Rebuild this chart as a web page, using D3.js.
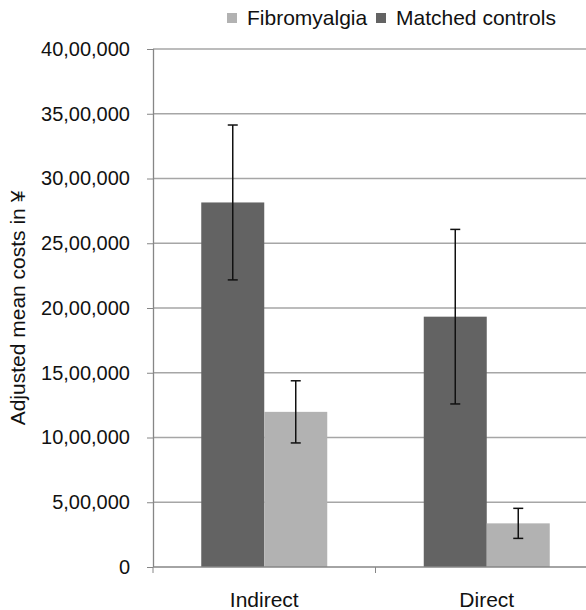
<!DOCTYPE html>
<html>
<head>
<meta charset="utf-8">
<script src="https://cdn.jsdelivr.net/npm/d3@7"></script>
<style>
  html, body { margin: 0; padding: 0; background: #fff; }
  svg { display: block; font-family: "Liberation Sans", Arial, sans-serif; }
</style>
</head>
<body>
<div id="chart"></div>
<script>
// DATA
const categories = ["Indirect", "Direct"];
const seriesNames = ["Matched controls", "Fibromyalgia"];
const matchedValues = [2815000, 1933000];
const matchedErrors = [598000, 674000];
const fibroValues = [1198000, 337000];
const fibroErrors = [240000, 116000];
const yTicks = [0, 500000, 1000000, 1500000, 2000000, 2500000, 3000000, 3500000, 4000000];
const legendNames = ["Fibromyalgia", "Matched controls"];

const colors = { "Matched controls": "#636363", "Fibromyalgia": "#b2b2b2" };

// SETUP
const W = 586, H = 610;
const margin = { top: 49, right: -12, bottom: 43, left: 153 };
const width = W - margin.left - margin.right,
      height = H - margin.top - margin.bottom;

const svg = d3.select("#chart").append("svg")
    .attr("width", W).attr("height", H);

const g = svg.append("g")
    .attr("transform", "translate(" + margin.left + "," + margin.top + ")");

const x0 = d3.scaleBand().domain(categories).range([0, width]).padding(0);
const x1 = d3.scaleBand().domain(seriesNames).range([0, x0.bandwidth()])
    .paddingInner(0).paddingOuter(0.766);
const y = d3.scaleLinear().domain([0, 4000000]).range([height, 0]);

// indian style grouping 40,00,000
function indian(n) {
    let s = String(Math.round(n));
    if (s.length <= 3) return s;
    let last3 = s.slice(-3), rest = s.slice(0, -3);
    rest = rest.replace(/\B(?=(\d{2})+(?!\d))/g, ",");
    return rest + "," + last3;
}

// GRID
g.append("g").selectAll("line")
    .data(yTicks.filter(d => d > 0))
    .enter().append("line")
    .attr("x1", 0).attr("x2", width)
    .attr("y1", d => y(d)).attr("y2", d => y(d))
    .attr("stroke", "#a6a6a6").attr("stroke-width", 1.3);

// BARS
const rows = categories.map((c, i) => ({
    cat: c,
    bars: [
        { s: "Matched controls", v: matchedValues[i], e: matchedErrors[i] },
        { s: "Fibromyalgia", v: fibroValues[i], e: fibroErrors[i] }
    ]
}));

const groups = g.selectAll(".grp").data(rows)
    .enter().append("g").attr("class", "grp")
    .attr("transform", d => "translate(" + x0(d.cat) + ",0)");

groups.selectAll("rect").data(d => d.bars)
    .enter().append("rect")
    .attr("x", d => x1(d.s))
    .attr("y", d => y(d.v))
    .attr("width", x1.bandwidth())
    .attr("height", d => height - y(d.v))
    .attr("fill", d => colors[d.s]);

// ERROR BARS
const eb = groups.selectAll(".err").data(d => d.bars)
    .enter().append("g").attr("class", "err")
    .attr("stroke", "#111").attr("stroke-width", 1.5);
const cx = d => x1(d.s) + x1.bandwidth() / 2;
eb.append("line")
    .attr("x1", cx).attr("x2", cx)
    .attr("y1", d => y(d.v + d.e)).attr("y2", d => y(d.v - d.e));
eb.append("line")
    .attr("x1", d => cx(d) - 5).attr("x2", d => cx(d) + 5)
    .attr("y1", d => y(d.v + d.e)).attr("y2", d => y(d.v + d.e));
eb.append("line")
    .attr("x1", d => cx(d) - 5).attr("x2", d => cx(d) + 5)
    .attr("y1", d => y(d.v - d.e)).attr("y2", d => y(d.v - d.e));

// AXES
const yAxis = g.append("g")
    .call(d3.axisLeft(y).tickValues(yTicks).tickFormat(indian).tickSize(6).tickPadding(17));
yAxis.selectAll("line").attr("stroke", "#868686");
yAxis.select(".domain").attr("stroke", "#868686").attr("stroke-width", 1.3)
    .attr("d", "M0.5," + height + "V0");
yAxis.selectAll("text").attr("font-size", "20px").attr("fill", "#111")
    .attr("font-family", "Liberation Sans, Arial, sans-serif");

const xAxis = g.append("g")
    .attr("transform", "translate(0," + height + ")");
xAxis.append("line")
    .attr("x1", 0).attr("x2", width).attr("y1", 0).attr("y2", 0)
    .attr("stroke", "#868686").attr("stroke-width", 1.5);
xAxis.selectAll(".tk").data(categories.concat(["end"]))
    .enter().append("line").attr("class", "tk")
    .attr("x1", (d, i) => i * x0.step()).attr("x2", (d, i) => i * x0.step())
    .attr("y1", 0).attr("y2", 6)
    .attr("stroke", "#868686");
xAxis.selectAll(".lbl").data(categories)
    .enter().append("text").attr("class", "lbl")
    .attr("x", d => x0(d) + x0.bandwidth() / 2)
    .attr("y", 40)
    .attr("text-anchor", "middle")
    .attr("font-size", "21px").attr("fill", "#111")
    .text(d => d);

// Y TITLE
svg.append("text")
    .attr("transform", "translate(25," + (margin.top + height / 2) + ") rotate(-90)")
    .attr("text-anchor", "middle")
    .attr("font-size", "21px").attr("fill", "#111")
    .text("Adjusted mean costs in ¥");

// LEGEND
const legX = [227, 376];
const leg = svg.selectAll(".leg").data(legendNames)
    .enter().append("g").attr("class", "leg")
    .attr("transform", (d, i) => "translate(" + legX[i] + ",0)");
leg.append("rect")
    .attr("x", 0).attr("y", 13).attr("width", 10).attr("height", 10)
    .attr("fill", d => colors[d]);
leg.append("text")
    .attr("x", 20).attr("y", 25)
    .attr("font-size", "21px").attr("fill", "#111")
    .text(d => d);
</script>
</body>
</html>
